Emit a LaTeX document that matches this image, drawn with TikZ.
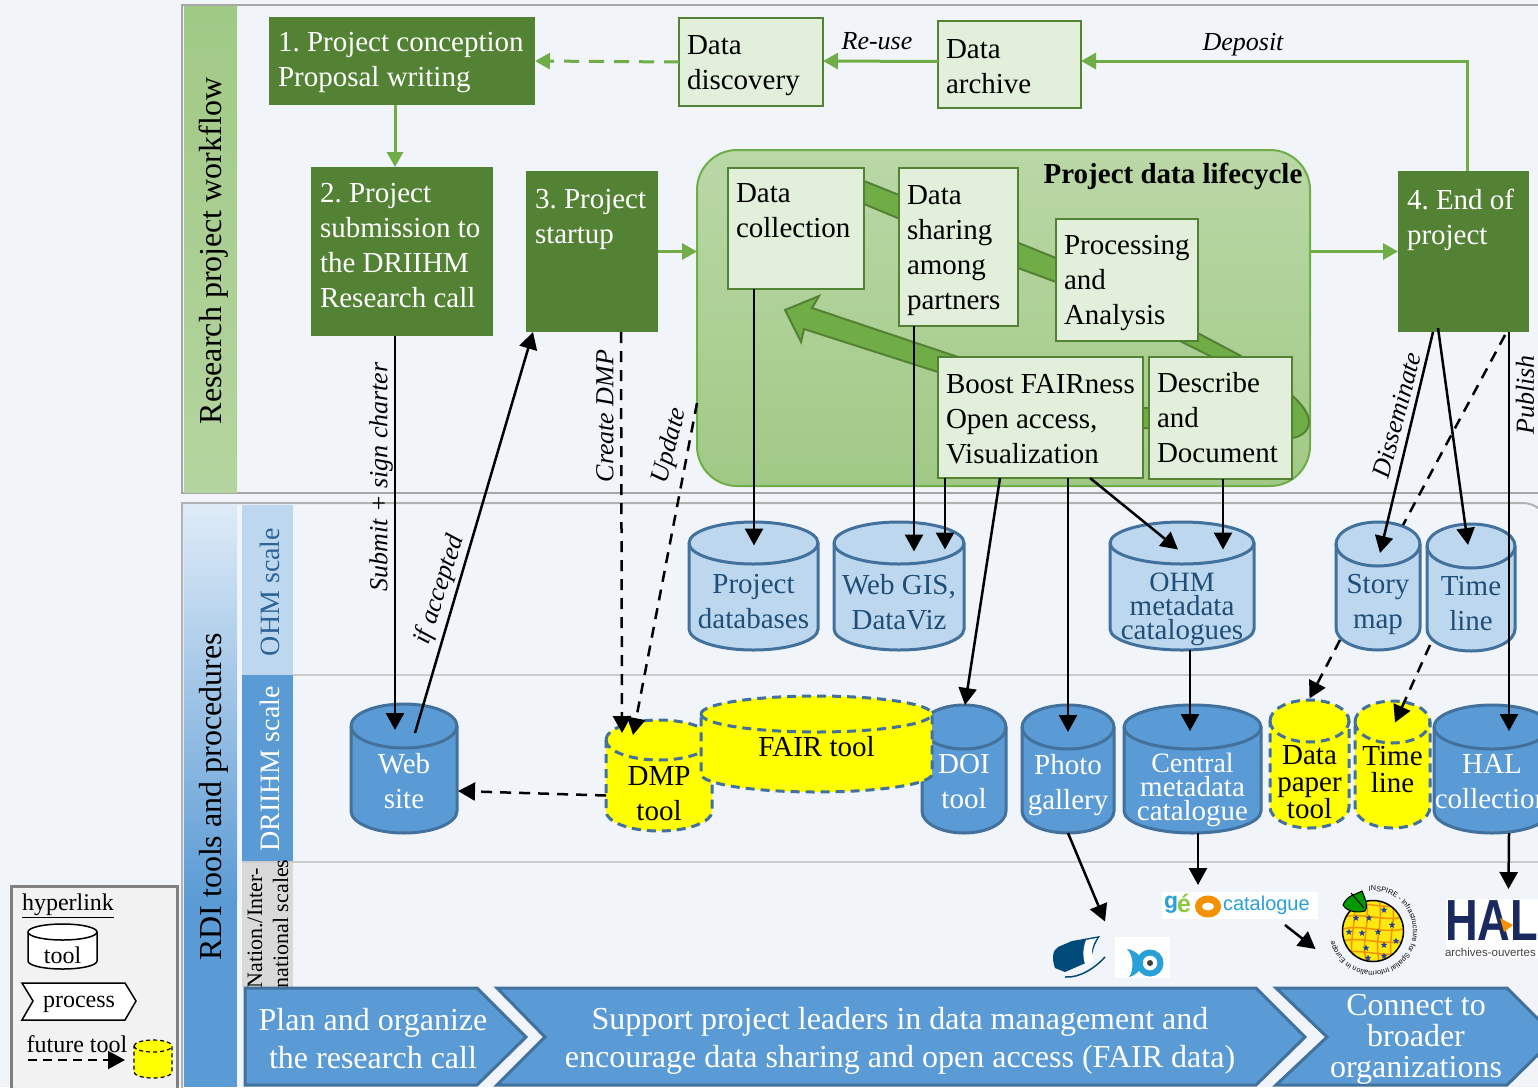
\documentclass[tikz,border=0pt]{standalone}
\usepackage{fontspec}
\setmainfont{Liberation Serif}
\newfontfamily\logofont{Liberation Sans}
\usetikzlibrary{arrows.meta,shapes.geometric,decorations.text}
\definecolor{pagebg}{HTML}{F1F5FA}
\definecolor{darkgreen}{HTML}{548235}
\definecolor{midgreen}{HTML}{70AD47}
\definecolor{palegreen}{HTML}{E2EFDA}
\definecolor{toolfill}{HTML}{5B9BD5}
\definecolor{toolline}{HTML}{41719C}
\definecolor{lightfill}{HTML}{BDD7EE}
\definecolor{lighttext}{HTML}{1F4E79}
\definecolor{scaletext}{HTML}{2E6496}
\definecolor{futureyellow}{HTML}{FFFF00}
\definecolor{logocyan}{HTML}{2AA0D8}
\definecolor{logonavy}{HTML}{1B2A5E}
\definecolor{logoorange}{HTML}{F39200}
\definecolor{logogreen}{HTML}{8DC63F}
\definecolor{logobook}{HTML}{004A7A}
\definecolor{flagyellow}{HTML}{FFE810}
\definecolor{flagblue}{HTML}{1F3FA0}
\tikzset{
    every node/.style={font=\fontsize{29}{35}\selectfont, inner sep=0pt, outer sep=0pt},
    procbox/.style={anchor=north west, fill=darkgreen, text=white, align=flush left, inner xsep=9pt},
    databox/.style={anchor=north west, fill=palegreen, draw=darkgreen, line width=2.5pt, align=flush left, inner xsep=8pt},
    arrowline/.style={line width=2.5pt, -{Triangle[length=17pt,width=18pt]}},
    dashline/.style={line width=2.5pt, dash pattern=on 11pt off 8pt, -{Triangle[length=17pt,width=18pt]}},
    greenline/.style={draw=midgreen, line width=3pt, -{Triangle[length=15pt,width=16pt]}},
    arrowlabel/.style={font=\fontsize{26}{30}\selectfont\itshape},
    chevron/.style={fill=toolfill, draw=toolline, line width=3pt},
    chevrontext/.style={font=\fontsize{32}{38}\selectfont, text=white, align=center},
    toolblue/.style={fill=toolfill, draw=toolline, line width=3pt},
    toolbluelabel/.style={text=white},
    toollight/.style={fill=lightfill, draw=toolline, line width=3pt},
    toollightlabel/.style={text=lighttext},
    toolfuture/.style={fill=futureyellow, draw=toolline, line width=3pt, dash pattern=on 9pt off 6pt},
    toolfuturelabel/.style={text=black},
    toolplain/.style={fill=white, draw=black, line width=1.5pt},
    toolplainlabel/.style={text=black, font=\fontsize{24}{28}\selectfont},
    toolmini/.style={fill=futureyellow, draw=black, line width=1.2pt, dash pattern=on 4pt off 3pt},
    toolminilabel/.style={},
    euflag/.style={star, star points=5, star point ratio=2.4, fill=flagblue, minimum size=7pt},
}
\newcommand{\dropline}[1]{\rule{0pt}{#1pt}}
\newcommand{\tool}[8]{
    \pgfmathsetmacro{\rx}{(#5-#3)/2}
    \pgfmathsetmacro{\cx}{(#3+#5)/2}
    \pgfmathsetmacro{\ya}{#4+#7}
    \pgfmathsetmacro{\yb}{#6-#7}
    \pgfmathsetmacro{\yn}{(#4+1.5*#7+#6)/2}
    \path[#1] (#3,\ya) arc[start angle=180,end angle=0,x radius=\rx pt,y radius=#7 pt]
        -- (#5,\yb) arc[start angle=0,end angle=-180,x radius=\rx pt,y radius=#7 pt] -- cycle;
    \path[#1,fill=none] (#3,\ya) arc[start angle=180,end angle=360,x radius=\rx pt,y radius=#7 pt];
    \pgfmathsetmacro{\nh}{#6-#4-1.5*#7}
    \node[#1label, align=center, minimum width=2*\rx pt, minimum height=\nh pt] (#2) at (\cx,\yn) {#8};
}
\begin{document}
\begin{tikzpicture}[x=1pt,y=-1pt]
    \useasboundingbox (0,0) rectangle (1538,1087);
    \clip (0,0) rectangle (1538,1087);
    \fill[pagebg] (0,0) rectangle (1538,1087);

    \draw[black!35, line width=2.5pt] (182,5) rectangle (1560,493);
    \draw[black!30, line width=2pt] (182,1120) -- (182,503) [rounded corners=25pt] -- (1548,503) -- (1548,1120);
    \shade[top color=midgreen!66, bottom color=midgreen!52] (184,6) rectangle (237,492);
    \shade[top color=toolfill!20, bottom color=toolfill] (184,504) rectangle (237,900);
    \fill[toolfill] (184,900) rectangle (237,1087);
    \node[rotate=90, font=\fontsize{32}{36}\selectfont] (workflow) at (214,251) {Research project workflow};
    \node[rotate=90, font=\fontsize{32}{36}\selectfont] (rditools) at (214,797) {RDI tools and procedures};

    \fill[lightfill] (242,505) rectangle (293,675);
    \fill[toolfill] (242,675) rectangle (293,862);
    \fill[black!15] (242,862) rectangle (293,987);
    \draw[black!20, line width=1.5pt] (293,675) -- (1538,675);
    \draw[black!20, line width=1.5pt] (242,862) -- (1538,862);
    \node[rotate=90, text=scaletext, font=\fontsize{28}{30}\selectfont] (ohmscale) at (270,592) {OHM scale};
    \node[rotate=90, text=white, font=\fontsize{28}{30}\selectfont] (driihmscale) at (270,769) {DRIIHM scale};
    \node[rotate=90, align=left, font=\fontsize{22}{26}\selectfont] (natscale) at (268,924) {Nation./Inter-\\national scales};

    \node[procbox, text width=248pt, minimum height=88pt] (concept) at (269,17) {\dropline{23}1.~Project~conception\\Proposal writing};
    \node[procbox, text width=164pt, minimum height=169pt] (submission) at (311,167) {2.~Project\\submission to\\the DRIIHM\\Research call\rule[-12pt]{0pt}{12pt}};
    \node[procbox, text width=114pt, minimum height=161pt] (startup) at (526,171) {3.~Project\\startup\\~\\~};
    \node[procbox, text width=113pt, minimum height=161pt] (endproject) at (1398,171) {4.~End~of\\project\\~\\~};
    \node[databox, text width=128pt, minimum height=88pt] (discovery) at (679,18) {\dropline{26}Data\\discovery};
    \node[databox, text width=127pt, minimum height=87pt] (archive) at (938,21) {\dropline{24}Data\\archive};

    \draw[greenline, dash pattern=on 15pt off 10pt] (discovery.west) -- (concept.east);
    \draw[greenline] ([xshift=-7pt]concept.south) -- ([xshift=-7pt]submission.north);
    \draw[greenline] ([yshift=3pt]archive.west) -- ([yshift=1pt]discovery.east);
    \draw[greenline] ([xshift=3.5pt]endproject.north) |- ([yshift=3.5pt]archive.east);
    \node[arrowlabel] (reuse) at (877,41) {Re-use};
    \node[arrowlabel] (deposit) at (1243,45) {Deposit};

    \shade[top color=midgreen!48, bottom color=midgreen!66, draw=midgreen, line width=2pt, rounded corners=40pt] (697,150) rectangle (1310,486);
    \node[minimum width=613pt, minimum height=336pt] (lifecycle) at (1003.5,318) {};
    \draw[greenline] (startup.east) -- (startup.east -| lifecycle.west);
    \draw[greenline] (endproject.west -| lifecycle.east) -- (endproject.west);
    \draw[fill=midgreen, draw=darkgreen, line width=2pt] (864,181) -- (1056,258) -- (1241,356) .. controls (1280,385) and (1310,405) .. (1309,423)
        .. controls (1308,432) and (1300,437) .. (1292,438) -- (1143,428) -- (938,372) -- (804,329) -- (801,342)
        -- (785,310) -- (819,296) -- (812,308) -- (955,356) -- (1143,408) -- (1240,410) -- (1212,357) -- (1182,342)
        -- (1056,282) -- (1018,268) -- (864,204) -- cycle;
    \node[font=\fontsize{29}{35}\selectfont\bfseries] (lifetitle) at (1173,176) {Project data lifecycle};
    \node[databox, text width=120pt, minimum height=121pt] (collection) at (728,168) {Data\\collection\\~};
    \node[databox, text width=103pt, minimum height=158pt] (sharing) at (899,168) {\dropline{26}Data\\sharing\\among\\partners};
    \node[databox, text width=126pt, minimum height=122pt] (analysis) at (1056,219) {\dropline{26}Processing\\and\\Analysis};
    \node[databox, text width=189pt, minimum height=121pt] (boost) at (938,357) {\dropline{23}\mbox{Boost FAIRness}\\Open access,\\Visualization};
    \node[databox, text width=127pt, minimum height=122pt] (describe) at (1149,357) {Describe\\and\\Document};

    \tool{toollight}{projdb}{689}{522}{818}{650}{21}{Project\\databases}
    \tool{toollight}{webgis}{834}{522}{964}{650}{21}{Web GIS,\\DataViz}
    \tool{toollight}{ohmcat}{1110}{522}{1254}{650}{21}{\fontsize{28}{35}\selectfont\dropline{33}OHM\\[-11pt]metadata\\[-11pt]catalogues}
    \tool{toollight}{storymap}{1336}{522}{1420}{650}{22}{\dropline{23}Story\\map}
    \tool{toollight}{timeline}{1427}{524}{1515}{651}{22}{Time\\line}
    \tool{toolblue}{website}{351}{704}{457}{833}{22}{Web\\site\rule[-9pt]{0pt}{9pt}}
    \tool{toolblue}{doitool}{922}{705}{1006}{833}{22}{DOI\\tool\rule[-9pt]{0pt}{9pt}}
    \tool{toolfuture}{dmptool}{606}{720}{712}{831}{20}{\dropline{26}DMP\\tool}
    \tool{toolfuture}{fairtool}{701}{696}{932}{792}{18}{\raisebox{22pt}{FAIR tool}}
    \tool{toolblue}{gallery}{1022}{705}{1114}{833}{22}{Photo\\gallery}
    \tool{toolblue}{central}{1124}{705}{1261}{833}{22}{\fontsize{28}{35}\selectfont\dropline{29}Central\\[-11pt]metadata\\[-11pt]catalogue}
    \tool{toolfuture}{paperdata}{1270}{700}{1349}{828}{21}{\dropline{24}Data\\[-8pt]paper\\[-8pt]tool}
    \tool{toolfuture}{timefuture}{1355}{701}{1430}{828}{21}{\dropline{24}Time\\[-8pt]line\\[-8pt]~}
    \tool{toolblue}{halcoll}{1434}{705}{1550}{833}{22}{HAL\\collection\rule[-9pt]{0pt}{9pt}}

    \fill[white] (1115,937) rectangle (1170,978);
    \node[minimum width=55pt, minimum height=41pt] (fishlogo) at (1142.5,957.5) {};
    \draw[logocyan, line width=6pt] (1150,963) circle (10.5pt);
    \fill[black!75] (1150,963) circle (3pt);
    \fill[logocyan] (1127,949) .. controls (1135,950) and (1139,955) .. (1143,960) -- (1143,966)
        .. controls (1139,971) and (1135,976) .. (1129,977) .. controls (1134,970) and (1134,956) .. (1127,949) -- cycle;

    \node[minimum width=52pt, minimum height=43pt] (booklogo) at (1079,957) {};
    \fill[logobook] (1058,947) -- (1072,941) -- (1100,936) .. controls (1090,950) and (1094,958) .. (1088,962)
        -- (1065,972) -- (1055,968) .. controls (1052,960) and (1052,950) .. (1058,947) -- cycle;
    \fill[white] (1086,940) .. controls (1082,950) and (1083,960) .. (1086,966) -- (1094,960)
        .. controls (1090,955) and (1092,945) .. (1097,938) -- cycle;
    \draw[logobook, line width=1.5pt] (1065,977) .. controls (1080,978) and (1095,968) .. (1105,957);

    \fill[white] (1162,892) rectangle (1318,919);
    \node[minimum width=156pt, minimum height=27pt] (geocat) at (1240,905.5) {};
    \node[anchor=west, font=\logofont\bfseries\fontsize{23}{24}\selectfont, text=logocyan] (geog) at (1164,905) {g};
    \node[anchor=west, font=\logofont\bfseries\fontsize{25}{24}\selectfont, text=logogreen] (geoe) at (1177,903) {é};
    \draw[logoorange, line width=7pt] (1208,906.5) ellipse (9.5pt and 7.5pt);
    \node[anchor=west, font=\logofont\fontsize{20}{24}\selectfont, text=logocyan] (geotext) at (1223,905) {catalogue};

    \node[circle, minimum size=61pt] (inspire) at (1373,931) {};
    \begin{scope}
        \clip (1373,931) circle (30.5pt);
        \fill[flagyellow] (1373,931) circle (30.5pt);
        \foreach \gy in {905,917,929,941,953}
            \draw[logoorange, line width=1.5pt] (1343,\gy) .. controls (1360,\gy-5) and (1385,\gy+5) .. (1403,\gy);
        \foreach \gx in {1353,1366,1379,1392}
            \draw[logoorange, line width=1.5pt] (\gx,900) .. controls (\gx+5,920) and (\gx-5,940) .. (\gx,960);
    \end{scope}
    \foreach \sx/\sy [count=\si] in {1356/918,1369/918,1384/910,1392/925,1378/932,1362/933,1349/932,1366/948,1384/945,1396/941,1368/958,1384/956}
        \node[euflag] (eustar\si) at (\sx,\sy) {};
    \draw[black, line width=1.5pt] (1373,931) circle (30.5pt);
    \fill[green!60!black, draw=black, line width=1pt] (1343,905) .. controls (1347,895) and (1355,895) .. (1362,891)
        .. controls (1366,900) and (1368,908) .. (1365,911) .. controls (1358,913) and (1347,912) .. (1343,905) -- cycle;
    \draw[black, line width=1pt] (1351,893) -- (1364,908);
    \path[decorate, decoration={text along path, text align={left}, text={|\logofont\fontsize{7.2}{8}\selectfont|INSPIRE - Infrastructure for Spatial Information in Europe}}]
        (1373,931) ++(96:40pt) arc[start angle=96,end angle=-214,radius=40pt];

    \fill[white] (1446,899) rectangle (1538,958);
    \node[anchor=west, font=\logofont\bfseries\fontsize{58}{60}\selectfont, text=logonavy] (hallogo) at (1445,921) {\scalebox{0.78}[1]{HAL}};
    \fill[logoorange] (1500,918) -- (1513,925) -- (1504,932) -- cycle;
    \node[anchor=west, font=\logofont\fontsize{11.5}{14}\selectfont, text=black!75] (halarchives) at (1445,952) {archives-ouvertes};

    \draw[arrowline] ([xshift=-7pt]submission.south) -- ([xshift=-9pt,yshift=7pt]website.north);
    \draw[arrowline] ([xshift=11pt,yshift=4pt]website.north) -- ([xshift=-59pt]startup.south);
    \draw[dashline] ([xshift=29pt]startup.south) -- ([xshift=-37pt,yshift=17pt]dmptool.north);
    \draw[dashline] ([yshift=-85pt]lifecycle.west) -- ([xshift=-26pt,yshift=15pt]dmptool.north);
    \draw[dashline] ([yshift=-5pt]dmptool.west) -- ([xshift=1pt,yshift=-6pt]website.east);
    \draw[arrowline] ([xshift=-42pt]collection.south) -- ([xshift=0.5pt,yshift=8pt]projdb.north);
    \draw[arrowline] ([xshift=-44.5pt]sharing.south) -- ([xshift=15pt,yshift=2pt]webgis.north);
    \draw[arrowline] ([xshift=-95.5pt]boost.south) -- ([xshift=46pt,yshift=4pt]webgis.north);
    \draw[arrowline] ([xshift=-40.5pt]boost.south) -- ([xshift=1pt,yshift=33pt]doitool.north);
    \draw[arrowline] ([xshift=27.5pt]boost.south) -- ([yshift=6pt]gallery.north);
    \draw[arrowline] ([xshift=49.5pt]boost.south) -- ([xshift=-4pt,yshift=4pt]ohmcat.north);
    \draw[arrowline] ([xshift=2.5pt]describe.south) -- ([xshift=41pt,yshift=4pt]ohmcat.north);
    \draw[arrowline] ([xshift=8pt]ohmcat.south) -- ([xshift=-2.5pt,yshift=7pt]central.north);
    \draw[arrowline] ([xshift=5.5pt]central.south) -- ([xshift=-42pt,yshift=7pt]geocat.north);
    \draw[arrowline] (gallery.south) -- ([xshift=26pt,yshift=14pt]booklogo.north);
    \draw[arrowline] ([xshift=45pt,yshift=-6pt]geocat.south) -- ([xshift=-27pt,yshift=-18pt]inspire.west);
    \draw[arrowline] ([xshift=45.5pt]endproject.south) -- ([xshift=17pt,yshift=7pt]halcoll.north);
    \draw[arrowline] ([xshift=17pt]halcoll.south) -- ([xshift=17pt,yshift=12pt]hallogo.north);
    \draw[arrowline] ([xshift=-30.5pt]endproject.south) -- ([xshift=2pt,yshift=2pt]storymap.north);
    \draw[arrowline] ([xshift=-25.5pt,yshift=4pt]endproject.south) -- ([xshift=-3pt,yshift=12pt]timeline.north);
    \draw[dashline, -] ([xshift=41.5pt,yshift=-3pt]endproject.south) -- ([xshift=25pt,yshift=30pt]storymap.north);
    \draw[dashline] ([xshift=-38pt,yshift=10pt]storymap.south) -- ([yshift=33pt]paperdata.north);
    \draw[dashline] ([xshift=-41pt,yshift=6pt]timeline.south) -- ([xshift=2.5pt,yshift=10pt]timefuture.north);

    \node[arrowlabel, rotate=90] (submit) at (381,477) {Submit + sign charter};
    \node[arrowlabel, rotate=72] (accepted) at (440,590) {if accepted};
    \node[arrowlabel, rotate=90] (createdmp) at (605,416) {Create DMP};
    \node[arrowlabel, rotate=75] (update) at (670,446) {Update};
    \node[arrowlabel, rotate=75] (disseminate) at (1397,415) {Disseminate};
    \node[arrowlabel, rotate=90] (publish) at (1525,395) {Publish};

    \draw[chevron] (245,988) -- (477,988) -- (526,1037) -- (477,1085) -- (245,1085) -- cycle;
    \draw[chevron] (497,988) -- (1256,988) -- (1305,1037) -- (1256,1085) -- (497,1085) -- (545,1037) -- cycle;
    \draw[chevron] (1276,988) -- (1507,988) -- (1556,1037) -- (1507,1085) -- (1276,1085) -- (1327,1037) -- cycle;
    \node[chevrontext] (plan) at (373,1039) {Plan and organize\\the research call};
    \node[chevrontext] (support) at (900,1041) {Support project leaders in data management and\\encourage data sharing and open access (FAIR data)};
    \node[chevrontext, font=\fontsize{32}{31}\selectfont] (connect) at (1416,1039) {Connect to\\broader\\organizations};

    \draw[fill=black!5, draw=black!50, line width=3pt] (11,886) rectangle (177,1110);
    \node[anchor=west, font=\fontsize{24}{28}\selectfont] (hyperlink) at (22,906) {\underline{hyperlink}};
    \tool{toolplain}{legendtool}{28}{924}{97}{969}{8}{\dropline{22}tool}
    \draw[fill=white, draw=black, line width=1.5pt] (22,983) -- (125,983) -- (136,1001) -- (125,1020) -- (22,1020) -- (33,1001) -- cycle;
    \node[font=\fontsize{24}{28}\selectfont] (legendprocess) at (79,1004) {process};
    \node[font=\fontsize{24}{28}\selectfont] (legendfuture) at (77,1044) {future tool};
    \tool{toolmini}{legendmini}{134}{1040}{172}{1078}{6}{}
    \draw[dashline, line width=2pt, dash pattern=on 9pt off 6pt] ([xshift=-49pt,yshift=-16pt]legendfuture.center) -- ([xshift=48pt,yshift=-16pt]legendfuture.center);
\end{tikzpicture}
\end{document}
